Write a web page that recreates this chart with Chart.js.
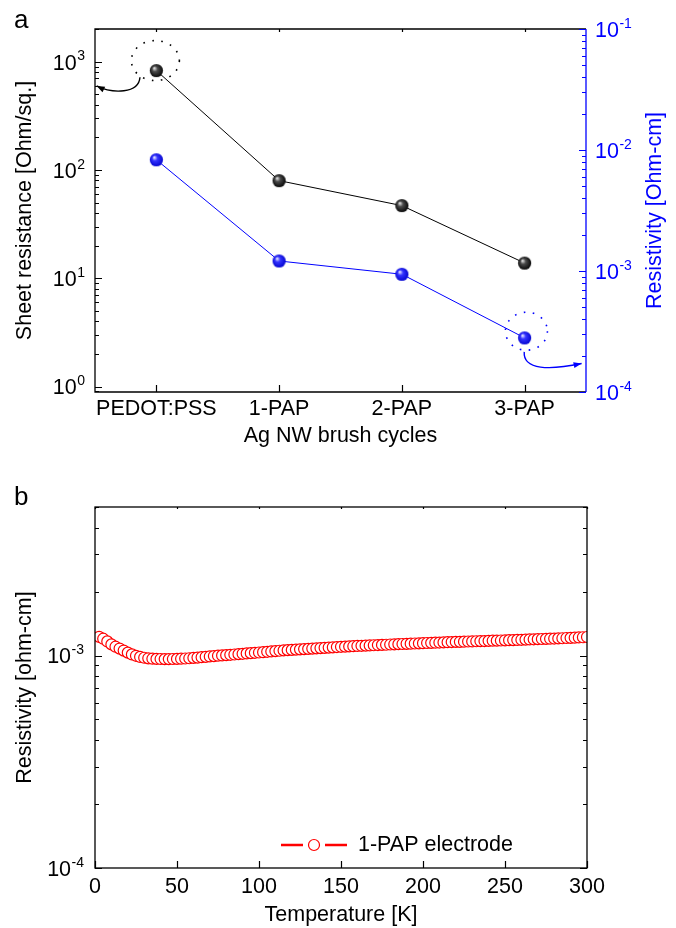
<!DOCTYPE html>
<html>
<head>
<meta charset="utf-8">
<script src="https://cdn.jsdelivr.net/npm/chart.js@4.4.1/dist/chart.umd.min.js"></script>
<style>
  body { margin: 0; background: #fff; }
  #wrap { position: relative; width: 676px; height: 928px; }
  #topChart { position: absolute; left: 0; top: 0; }
  #bottomChart { position: absolute; left: 0; top: 450px; }
</style>
</head>
<body>
<div id="wrap">
  <canvas id="topChart" width="676" height="450"></canvas>
  <canvas id="bottomChart" width="676" height="478"></canvas>
</div>
<script>
// ---- data (panel a) ----
const cycles = ["PEDOT:PSS", "1-PAP", "2-PAP", "3-PAP"];
const sheetRes = [826, 79.6, 46.8, 13.8];              // Ohm/sq.
const resistivity = [8.3e-3, 1.21e-3, 9.4e-4, 2.8e-4]; // Ohm-cm

// ---- data (panel b) ----
const temps = [
  2.5,5,7.5,10,12.5,15,17.5,20,22.5,25,
  27.5,30,32.5,35,37.5,40,42.5,45,47.5,50,
  52.5,55,57.5,60,62.5,65,67.5,70,72.5,75,
  77.5,80,82.5,85,87.5,90,92.5,95,97.5,100,
  102.5,105,107.5,110,112.5,115,117.5,120,122.5,125,
  127.5,130,132.5,135,137.5,140,142.5,145,147.5,150,
  152.5,155,157.5,160,162.5,165,167.5,170,172.5,175,
  177.5,180,182.5,185,187.5,190,192.5,195,197.5,200,
  202.5,205,207.5,210,212.5,215,217.5,220,222.5,225,
  227.5,230,232.5,235,237.5,240,242.5,245,247.5,250,
  252.5,255,257.5,260,262.5,265,267.5,270,272.5,275,
  277.5,280,282.5,285,287.5,290,292.5,295,297.5,300
];
const rho1PAP = [
  0.001225,0.001200,0.001165,0.001128,0.001100,0.001078,0.001055,0.001032,0.001012,0.000997,
  0.000985,0.000976,0.000970,0.000966,0.000964,0.000963,0.000962,0.000962,0.000963,0.000964,
  0.000966,0.000968,0.000971,0.000975,0.000978,0.000982,0.000986,0.000990,0.000994,0.000998,
  0.001001,0.001004,0.001008,0.001011,0.001015,0.001019,0.001023,0.001026,0.001030,0.001033,
  0.001037,0.001041,0.001045,0.001049,0.001053,0.001057,0.001060,0.001063,0.001066,0.001069,
  0.001072,0.001075,0.001078,0.001081,0.001084,0.001087,0.001090,0.001093,0.001096,0.001099,
  0.001101,0.001104,0.001106,0.001109,0.001111,0.001113,0.001115,0.001118,0.001120,0.001122,
  0.001124,0.001127,0.001129,0.001131,0.001133,0.001135,0.001137,0.001139,0.001141,0.001143,
  0.001145,0.001147,0.001149,0.001151,0.001153,0.001155,0.001157,0.001159,0.001160,0.001162,
  0.001164,0.001165,0.001167,0.001169,0.001170,0.001172,0.001174,0.001175,0.001177,0.001179,
  0.001181,0.001182,0.001184,0.001186,0.001188,0.001190,0.001192,0.001194,0.001196,0.001198,
  0.001200,0.001202,0.001204,0.001206,0.001209,0.001211,0.001213,0.001216,0.001219,0.001222
];

// tick labels
const sheetMajors = [1, 10, 100, 1000];
const sheetExps = ["0", "1", "2", "3"];
const rhoMajors = [1e-4, 1e-3, 1e-2, 1e-1];
const rhoExps = ["-4", "-3", "-2", "-1"];
const rhoBMajors = [1e-4, 1e-3];
const rhoBExps = ["-4", "-3"];
const tempTicks = [0, 50, 100, 150, 200, 250, 300];

const FONT = '"Liberation Sans", Arial, sans-serif';
const FS = 21.5;
const BLUE = "#0000ff";

// shaded ball marker
function sphere(light, mid, dark) {
  const c = document.createElement("canvas");
  c.width = 15; c.height = 15;
  const g = c.getContext("2d");
  const grad = g.createRadialGradient(5.3, 5, 0.3, 7.5, 7.5, 7.2);
  grad.addColorStop(0, light);
  grad.addColorStop(0.35, mid);
  grad.addColorStop(1, dark);
  g.fillStyle = grad;
  g.beginPath();
  g.arc(7.5, 7.5, 6.6, 0, Math.PI * 2);
  g.fill();
  return c;
}

// 10^n label
function powLabel(ctx, x, y, exp, align, color) {
  ctx.save();
  ctx.fillStyle = color;
  ctx.textBaseline = "middle";
  ctx.textAlign = "left";
  ctx.font = FS + "px " + FONT;
  const wb = ctx.measureText("10").width;
  ctx.font = "14px " + FONT;
  const we = ctx.measureText(exp).width;
  const left = align === "right" ? x - wb - we - 0.5 : x;
  ctx.font = FS + "px " + FONT;
  ctx.fillText("10", left, y + 2);
  ctx.font = "14px " + FONT;
  ctx.fillText(exp, left + wb + 0.5, y - 5);
  ctx.restore();
}

function logTicks(ctx, scale, x, dir, majors, color) {
  const lo = scale.min, hi = scale.max;
  ctx.save();
  ctx.strokeStyle = color;
  ctx.lineWidth = 1.2;
  ctx.beginPath();
  let d = Math.pow(10, Math.floor(Math.log10(lo)));
  while (d <= hi) {
    for (let m = 1; m <= 9; m++) {
      const v = d * m;
      if (v < lo * 0.999 || v > hi * 1.001) continue;
      const y = Math.round(scale.getPixelForValue(v)) + 0.5;
      const len = m === 1 ? 7 : 4;
      ctx.moveTo(x, y);
      ctx.lineTo(x + dir * len, y);
    }
    d *= 10;
  }
  ctx.stroke();
  ctx.restore();
}

function arrow(ctx, p, s, c1, c2, e, color) {
  ctx.save();
  ctx.strokeStyle = color;
  ctx.fillStyle = color;
  ctx.lineWidth = 1.4;
  ctx.setLineDash([]);
  ctx.beginPath();
  ctx.moveTo(p.x + s[0], p.y + s[1]);
  ctx.bezierCurveTo(p.x + c1[0], p.y + c1[1], p.x + c2[0], p.y + c2[1], p.x + e[0], p.y + e[1]);
  ctx.stroke();
  const ang = Math.atan2(e[1] - c2[1], e[0] - c2[0]);
  const tx = p.x + e[0], ty = p.y + e[1];
  ctx.beginPath();
  ctx.moveTo(tx, ty);
  ctx.lineTo(tx - 8 * Math.cos(ang) + 3 * Math.sin(ang), ty - 8 * Math.sin(ang) - 3 * Math.cos(ang));
  ctx.lineTo(tx - 8 * Math.cos(ang) - 3 * Math.sin(ang), ty - 8 * Math.sin(ang) + 3 * Math.cos(ang));
  ctx.closePath();
  ctx.fill();
  ctx.restore();
}

function dotted(ctx, cx, cy, rx, ry, color) {
  ctx.save();
  ctx.strokeStyle = color;
  ctx.lineWidth = 1.6;
  ctx.setLineDash([1.6, 7.5]);
  ctx.beginPath();
  ctx.ellipse(cx, cy, rx, ry, 0, 0, Math.PI * 2);
  ctx.stroke();
  ctx.restore();
}

// ---- panel a ----
const topDecor = {
  id: "topDecor",
  afterDatasetsDraw(chart) {
    const ctx = chart.ctx;
    const a = chart.chartArea;
    const xs = chart.scales.x, ys = chart.scales.y, y2 = chart.scales.y2;

    // frame
    ctx.save();
    ctx.lineWidth = 1.3;
    ctx.strokeStyle = "#000";
    ctx.beginPath();
    ctx.moveTo(a.right, a.top); ctx.lineTo(a.left, a.top);
    ctx.lineTo(a.left, a.bottom); ctx.lineTo(a.right, a.bottom);
    ctx.stroke();
    ctx.strokeStyle = BLUE;
    ctx.beginPath();
    ctx.moveTo(a.right, a.top); ctx.lineTo(a.right, a.bottom);
    ctx.stroke();
    // category ticks
    ctx.strokeStyle = "#000";
    ctx.lineWidth = 1.2;
    ctx.beginPath();
    cycles.forEach((c, i) => {
      const x = Math.round(xs.getPixelForValue(i)) + 0.5;
      ctx.moveTo(x, a.bottom); ctx.lineTo(x, a.bottom - 7);
      ctx.moveTo(x, a.top); ctx.lineTo(x, a.top + 3);
    });
    ctx.stroke();
    ctx.restore();

    logTicks(ctx, ys, a.left, 1, sheetMajors, "#000");
    logTicks(ctx, y2, a.right, -1, rhoMajors, BLUE);

    sheetMajors.forEach((v, i) => powLabel(ctx, a.left - 10, ys.getPixelForValue(v), sheetExps[i], "right", "#000"));
    rhoMajors.forEach((v, i) => powLabel(ctx, a.right + 9, y2.getPixelForValue(v), rhoExps[i], "left", BLUE));

    // right axis title
    ctx.save();
    ctx.translate(655, (a.top + a.bottom) / 2);
    ctx.rotate(-Math.PI / 2);
    ctx.fillStyle = BLUE;
    ctx.font = FS + "px " + FONT;
    ctx.textAlign = "center";
    ctx.textBaseline = "middle";
    ctx.fillText("Resistivity [Ohm-cm]", 0, 0);
    ctx.restore();

    // panel letter
    ctx.save();
    ctx.fillStyle = "#000";
    ctx.font = "26px " + FONT;
    ctx.textBaseline = "alphabetic";
    ctx.fillText("a", 14, 28);
    ctx.restore();

    // callouts
    const p0 = { x: xs.getPixelForValue(0), y: ys.getPixelForValue(sheetRes[0]) };
    dotted(ctx, p0.x - 1, p0.y - 10, 24, 20, "#000");
    arrow(ctx, p0, [-16.4, 6.6], [-17.7, 23.3], [-43.7, 23.3], [-59.7, 15.3], "#000");
    const p3 = { x: xs.getPixelForValue(3), y: y2.getPixelForValue(resistivity[3]) };
    dotted(ctx, p3.x + 1.8, p3.y - 6.7, 21, 19, BLUE);
    arrow(ctx, p3, [-0.4, 14], [-1.7, 32.3], [25.3, 32.3], [57, 25.6], BLUE);
  }
};

new Chart(document.getElementById("topChart"), {
  type: "line",
  data: {
    labels: cycles,
    datasets: [
      {
        label: "Sheet resistance",
        data: sheetRes,
        yAxisID: "y",
        borderColor: "#000",
        borderWidth: 1,
        pointStyle: sphere("#e6e6e6", "#4a4a4a", "#000"),
        pointRadius: 7,
        tension: 0
      },
      {
        label: "Resistivity",
        data: resistivity,
        yAxisID: "y2",
        borderColor: BLUE,
        borderWidth: 1,
        pointStyle: sphere("#eeeeff", "#3434ff", "#0000cc"),
        pointRadius: 7,
        tension: 0
      }
    ]
  },
  options: {
    responsive: false,
    animation: false,
    devicePixelRatio: 1,
    layout: { padding: { top: 29, left: 0, right: 0, bottom: 0 } },
    plugins: { legend: { display: false }, tooltip: { enabled: false } },
    scales: {
      x: {
        type: "category",
        offset: true,
        grid: { display: false, drawTicks: false },
        border: { display: false },
        ticks: { color: "#000", font: { family: FONT, size: FS }, padding: 4, maxRotation: 0, autoSkip: false },
        title: { display: true, text: "Ag NW brush cycles", color: "#000", font: { family: FONT, size: FS }, padding: { top: 0, bottom: 1 } },
        afterFit: s => { s.height = 58; }
      },
      y: {
        type: "logarithmic",
        position: "left",
        min: 0.89,
        max: 2000,
        grid: { display: false, drawTicks: false },
        border: { display: false },
        ticks: { display: false },
        title: { display: true, text: "Sheet resistance [Ohm/sq.]", color: "#000", font: { family: FONT, size: FS }, padding: { top: 12, bottom: 0 } },
        afterFit: s => { s.width = 95; }
      },
      y2: {
        type: "logarithmic",
        position: "right",
        min: 1e-4,
        max: 1e-1,
        grid: { display: false, drawTicks: false },
        border: { display: false },
        ticks: { display: false },
        afterFit: s => { s.width = 90; }
      }
    }
  },
  plugins: [topDecor]
});

// ---- panel b ----
const bottomDecor = {
  id: "bottomDecor",
  afterDatasetsDraw(chart) {
    const ctx = chart.ctx;
    const a = chart.chartArea;
    const xs = chart.scales.x, ys = chart.scales.y;

    ctx.save();
    ctx.lineWidth = 1.3;
    ctx.strokeStyle = "#000";
    ctx.strokeRect(a.left, a.top, a.right - a.left, a.bottom - a.top);
    ctx.lineWidth = 1.2;
    ctx.beginPath();
    tempTicks.forEach(t => {
      const x = Math.round(xs.getPixelForValue(t)) + 0.5;
      ctx.moveTo(x, a.bottom); ctx.lineTo(x, a.bottom - 7);
      ctx.moveTo(x, a.top); ctx.lineTo(x, a.top + 2);
    });
    ctx.stroke();
    ctx.restore();

    logTicks(ctx, ys, a.left, 1, rhoBMajors, "#000");
    logTicks(ctx, ys, a.right, -1, rhoBMajors, "#000");
    rhoBMajors.forEach((v, i) => powLabel(ctx, a.left - 11, ys.getPixelForValue(v), rhoBExps[i], "right", "#000"));

    // legend
    const ly = 395;
    ctx.save();
    ctx.strokeStyle = "#ff0000";
    ctx.lineWidth = 2.4;
    ctx.beginPath();
    ctx.moveTo(281, ly); ctx.lineTo(303, ly);
    ctx.moveTo(325, ly); ctx.lineTo(347, ly);
    ctx.stroke();
    ctx.lineWidth = 1.2;
    ctx.fillStyle = "#fff";
    ctx.beginPath();
    ctx.arc(314, ly, 5.5, 0, Math.PI * 2);
    ctx.fill();
    ctx.stroke();
    ctx.fillStyle = "#000";
    ctx.font = FS + "px " + FONT;
    ctx.textBaseline = "middle";
    ctx.fillText("1-PAP electrode", 358, ly);
    ctx.restore();

    ctx.save();
    ctx.fillStyle = "#000";
    ctx.font = "26px " + FONT;
    ctx.fillText("b", 14, 55);
    ctx.restore();
  }
};

new Chart(document.getElementById("bottomChart"), {
  type: "scatter",
  data: {
    datasets: [{
      label: "1-PAP electrode",
      data: temps.map((t, i) => ({ x: t, y: rho1PAP[i] })),
      showLine: false,
      pointStyle: "circle",
      pointRadius: 5.5,
      borderColor: "#ff0000",
      borderWidth: 1.2,
      backgroundColor: "#fff",
      clip: 0
    }]
  },
  options: {
    responsive: false,
    animation: false,
    devicePixelRatio: 1,
    layout: { padding: { top: 57, left: 0, right: 89, bottom: 0 } },
    plugins: { legend: { display: false }, tooltip: { enabled: false } },
    scales: {
      x: {
        type: "linear",
        min: 0,
        max: 300,
        grid: { display: false, drawTicks: false },
        border: { display: false },
        ticks: { stepSize: 50, color: "#000", font: { family: FONT, size: FS }, padding: 6, maxRotation: 0, autoSkip: false },
        title: { display: true, text: "Temperature [K]", color: "#000", font: { family: FONT, size: FS }, padding: { top: 0, bottom: 0 } },
        afterFit: s => { s.height = 60; }
      },
      y: {
        type: "logarithmic",
        min: 1e-4,
        max: 5e-3,
        grid: { display: false, drawTicks: false },
        border: { display: false },
        ticks: { display: false },
        title: { display: true, text: "Resistivity [ohm-cm]", color: "#000", font: { family: FONT, size: FS }, padding: { top: 12, bottom: 0 } },
        afterFit: s => { s.width = 95; }
      }
    }
  },
  plugins: [bottomDecor]
});
</script>
</body>
</html>
